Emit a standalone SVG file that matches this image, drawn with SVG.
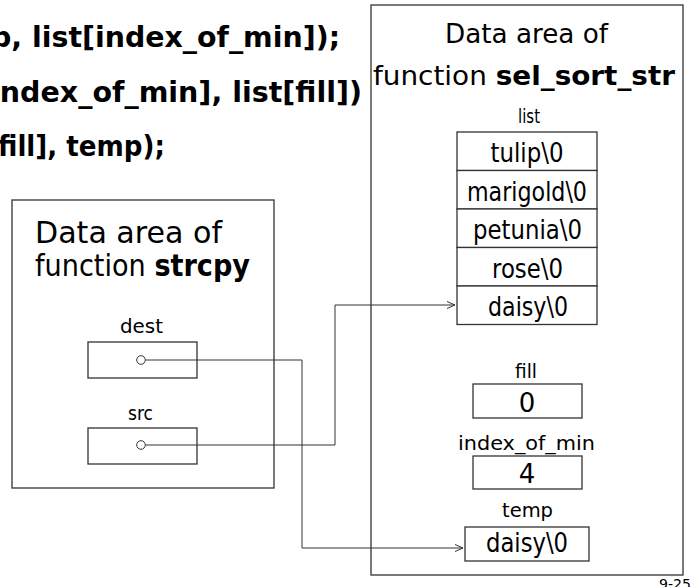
<svg xmlns="http://www.w3.org/2000/svg" width="690" height="587" viewBox="0 0 690 587">
<style>
text{font-family:"DejaVu Sans","Liberation Sans",sans-serif;fill:#000}
.code{font-size:28px;font-weight:bold}
.t1{font-size:30px}
.t2{font-size:26px}
.b{font-weight:bold}
.lbl{font-size:20px;text-anchor:middle}
.val{font-size:26px;text-anchor:middle}
.box{fill:#fff;stroke:#333;stroke-width:1.3}
.cell{fill:#fff;stroke:#333;stroke-width:1.3}
.wire{fill:none;stroke:#333;stroke-width:1}
.dot{fill:#fff;stroke:#333;stroke-width:1}
</style>
<defs>
<marker id="arr" markerWidth="10" markerHeight="10" refX="9" refY="4" orient="auto" markerUnits="userSpaceOnUse">
<path d="M1,0.5 L9,4 L1,7.5" fill="none" stroke="#333" stroke-width="1"/>
</marker>
</defs>
<g id="code">
<text class="code" x="-9" y="47" textLength="349" lengthAdjust="spacingAndGlyphs">p, list[index_of_min]);</text>
<text class="code" x="-10" y="101.5" textLength="372" lengthAdjust="spacingAndGlyphs">index_of_min], list[fill])</text>
<text class="code" x="-2" y="156" textLength="167" lengthAdjust="spacingAndGlyphs">fill], temp);</text>
</g>
<g id="strcpy-area">
<rect class="box" x="12" y="200" width="262" height="288"/>
<text class="t1" x="35" y="243" textLength="187" lengthAdjust="spacingAndGlyphs">Data area of</text>
<text class="t1" x="35" y="276" textLength="215" lengthAdjust="spacingAndGlyphs">function <tspan class="b">strcpy</tspan></text>
</g>
<g id="dest">
<text class="lbl" x="141.5" y="333" textLength="43" lengthAdjust="spacingAndGlyphs">dest</text>
<rect class="cell" x="88" y="342" width="109" height="36"/>
</g>
<g id="src">
<text class="lbl" x="140.5" y="420" textLength="25" lengthAdjust="spacingAndGlyphs">src</text>
<rect class="cell" x="88" y="428" width="109" height="36"/>
</g>
<g id="sel-sort-area">
<rect class="box" x="371" y="5" width="312" height="570"/>
<text class="t2" x="526.5" y="43" text-anchor="middle" textLength="163" lengthAdjust="spacingAndGlyphs">Data area of</text>
<text class="t2" x="373" y="85" textLength="302" lengthAdjust="spacingAndGlyphs">function <tspan class="b">sel_sort_str</tspan></text>
</g>
<g id="list">
<text class="lbl" x="529" y="123" textLength="22" lengthAdjust="spacingAndGlyphs">list</text>
<rect class="cell" x="457" y="132" width="140" height="38.5"/>
<rect class="cell" x="457" y="170.5" width="140" height="38.5"/>
<rect class="cell" x="457" y="209" width="140" height="38.5"/>
<rect class="cell" x="457" y="247.5" width="140" height="38.5"/>
<rect class="cell" x="457" y="286" width="140" height="38.5"/>
<text class="val" x="527" y="162" textLength="73" lengthAdjust="spacingAndGlyphs">tulip\0</text>
<text class="val" x="527" y="200.5" textLength="120" lengthAdjust="spacingAndGlyphs">marigold\0</text>
<text class="val" x="527.5" y="239" textLength="109" lengthAdjust="spacingAndGlyphs">petunia\0</text>
<text class="val" x="527.5" y="277.5" textLength="71" lengthAdjust="spacingAndGlyphs">rose\0</text>
<text class="val" x="528" y="316" textLength="80" lengthAdjust="spacingAndGlyphs">daisy\0</text>
</g>
<g id="fill">
<text class="lbl" x="526" y="378" textLength="22" lengthAdjust="spacingAndGlyphs">fill</text>
<rect class="cell" x="473" y="384" width="109" height="34"/>
<text class="val" x="527" y="412">0</text>
</g>
<g id="index_of_min">
<text class="lbl" x="526.5" y="450" textLength="137" lengthAdjust="spacingAndGlyphs">index_of_min</text>
<rect class="cell" x="473" y="456" width="109" height="33"/>
<text class="val" x="527" y="483">4</text>
</g>
<g id="temp">
<text class="lbl" x="527.5" y="517" textLength="51" lengthAdjust="spacingAndGlyphs">temp</text>
<rect class="cell" x="465" y="527" width="124" height="34"/>
<text class="val" x="527" y="552" textLength="82" lengthAdjust="spacingAndGlyphs">daisy\0</text>
</g>
<g id="connectors">
<polyline class="wire" points="145.5,360 302,360 302,548 463,548" marker-end="url(#arr)"/>
<polyline class="wire" points="145.5,445 335,445 335,305 455,305" marker-end="url(#arr)"/>
<circle class="dot" cx="141" cy="360" r="4.3"/>
<circle class="dot" cx="141" cy="445" r="4.3"/>
</g>
<text x="659" y="589" style="font-size:14px" textLength="32" lengthAdjust="spacingAndGlyphs">9-25</text>
</svg>
